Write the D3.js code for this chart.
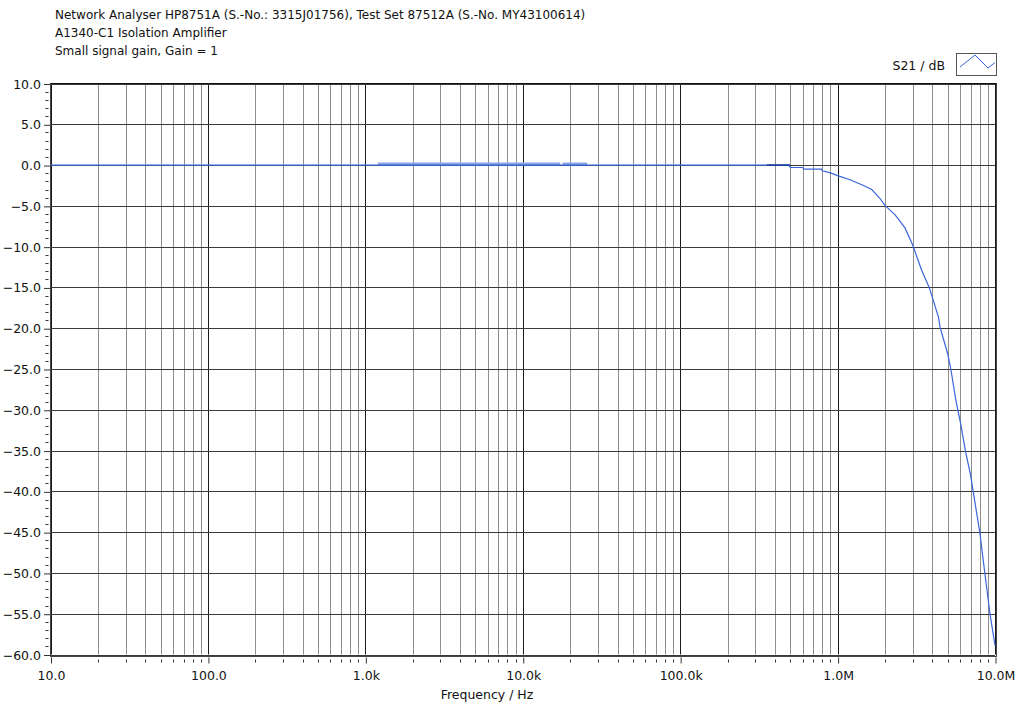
<!DOCTYPE html>
<html>
<head>
<meta charset="utf-8">
<script src="https://cdn.jsdelivr.net/npm/d3@7"></script>
<style>
  html, body { margin: 0; padding: 0; background: #fff; }
  svg { display: block; font-family: "DejaVu Sans", Verdana, sans-serif; }
</style>
</head>
<body>
<svg id="chart" width="1020" height="708"></svg>
<script>
// Header lines
const titleLines = [
  "Network Analyser HP8751A (S.-No.: 3315J01756), Test Set 87512A (S.-No. MY43100614)",
  "A1340-C1 Isolation Amplifier",
  "Small signal gain, Gain = 1"
];
const seriesName = "S21 / dB";
const xTitle = "Frequency / Hz";

// Axis ticks
const xMajorTicks = [10, 100, 1e3, 1e4, 1e5, 1e6, 1e7];
const xTickLabels = ["10.0", "100.0", "1.0k", "10.0k", "100.0k", "1.0M", "10.0M"];
const yMajorTicks = [10, 5, 0, -5, -10, -15, -20, -25, -30, -35, -40, -45, -50, -55, -60];

// S21 sweep: frequency (Hz) and gain (dB)
const freqHz = [10, 100, 1e3, 1e4, 1e5, 3.5e5, 4.9e5, 5.0e5, 6.0e5, 6.1e5, 7.9e5, 8.0e5, 9.0e5, 1.0e6,
  1.2e6, 1.46e6, 1.65e6, 1.77e6, 1.86e6, 2.0e6, 2.32e6, 2.68e6, 3.0e6, 3.42e6, 3.82e6, 4.37e6, 4.48e6,
  5.0e6, 5.24e6, 5.65e6, 6.05e6, 6.51e6, 7.0e6, 7.28e6, 8.0e6, 8.63e6, 9.29e6, 1.0e7];
const gainDb = [0, 0, 0, 0, 0, 0, 0, -0.3, -0.3, -0.5, -0.5, -0.7, -0.95, -1.3,
  -1.8, -2.5, -3.0, -3.65, -4.1, -4.95, -6.1, -7.7, -9.8, -12.9, -15.0, -18.6, -19.9,
  -23.1, -25.0, -28.9, -31.7, -35.2, -38.0, -40.1, -45.0, -50.1, -55.0, -58.9];

// Overlapping sweep segments
const segA_freq = [1.2e3, 1.73e4];
const segA_gain = [0.15, 0.15];
const segB_freq = [1.79e4, 2.57e4];
const segB_gain = [0.15, 0.15];
const segC_freq = [3.55e5, 4.98e5];
const segC_gain = [0, 0];

const svg = d3.select("#chart");

const x = d3.scaleLog().domain([10, 1e7]).range([50.5, 995]);
const y = d3.scaleLinear().domain([-60, 10]).range([654.5, 83.5]);
const px = v => Math.round(v) + 0.5;

// Header
svg.append("g").selectAll("text").data(titleLines).join("text")
  .attr("x", 55).attr("y", (d, i) => 19 + i * 18)
  .attr("font-size", 12).attr("fill", "#111")
  .text(d => d);

// Minor decade positions
const minorX = [];
for (let dec = 10; dec < 1e7; dec *= 10) {
  for (let k = 2; k <= 9; k++) minorX.push(dec * k);
}

const grid = svg.append("g");
// Minor vertical grid
grid.selectAll("line.vmin").data(minorX).join("line")
  .attr("class", "vmin")
  .attr("x1", d => px(x(d))).attr("x2", d => px(x(d)))
  .attr("y1", y(10)).attr("y2", y(-60))
  .attr("stroke", "#8e8e8e").attr("stroke-width", 1);
// Major vertical grid
grid.selectAll("line.vmaj").data(xMajorTicks).join("line")
  .attr("class", "vmaj")
  .attr("x1", d => px(x(d))).attr("x2", d => px(x(d)))
  .attr("y1", y(10)).attr("y2", y(-60))
  .attr("stroke", "#1a1a1a").attr("stroke-width", 1);
// Horizontal grid
grid.selectAll("line.h").data(yMajorTicks).join("line")
  .attr("class", "h")
  .attr("x1", x(10)).attr("x2", x(1e7))
  .attr("y1", d => px(y(d))).attr("y2", d => px(y(d)))
  .attr("stroke", "#3a3a3a").attr("stroke-width", 1);

// Frame
svg.append("rect")
  .attr("x", px(x(10)) - 1).attr("y", px(y(10)) - 1)
  .attr("width", px(x(1e7)) - px(x(10)) + 2)
  .attr("height", px(y(-60)) - px(y(10)) + 2)
  .attr("fill", "none").attr("stroke", "#444").attr("stroke-width", 1);
svg.append("line")
  .attr("x1", px(x(10)) - 1).attr("x2", px(x(1e7)) + 1)
  .attr("y1", px(y(10)) - 1).attr("y2", px(y(10)) - 1)
  .attr("stroke", "#111");

// Y axis: labels, major and minor ticks
const yAxis = d3.axisLeft(y).tickValues(yMajorTicks).tickSize(6).tickPadding(3)
  .tickFormat(d3.format(".1f"));
const gy = svg.append("g").attr("transform", `translate(${px(x(10)) - 1.5},0.5)`).call(yAxis);
gy.select(".domain").remove();
gy.selectAll(".tick line").attr("stroke", "#333");
gy.selectAll(".tick text").attr("font-size", 12.5).attr("fill", "#111")
  .attr("font-family", "DejaVu Sans, sans-serif");
const minorY = d3.range(-60, 10, 1).filter(v => v % 5 !== 0);
svg.append("g").selectAll("line").data(minorY).join("line")
  .attr("x1", px(x(10)) - 6).attr("x2", px(x(10)) - 3)
  .attr("y1", d => px(y(d))).attr("y2", d => px(y(d)))
  .attr("stroke", "#333");

// X axis: labels, major and minor ticks
const xAxis = d3.axisBottom(x).tickValues(xMajorTicks).tickSize(6).tickPadding(8)
  .tickFormat((d, i) => xTickLabels[i]);
const gx = svg.append("g").attr("transform", `translate(0.5,${px(y(-60)) + 2})`).call(xAxis);
gx.select(".domain").remove();
gx.selectAll(".tick line").attr("stroke", "#333");
gx.selectAll(".tick text").attr("font-size", 12.5).attr("fill", "#111")
  .attr("font-family", "DejaVu Sans, sans-serif");
svg.append("g").selectAll("line").data(minorX).join("line")
  .attr("x1", d => px(x(d))).attr("x2", d => px(x(d)))
  .attr("y1", px(y(-60)) + 4).attr("y2", px(y(-60)) + 7)
  .attr("stroke", "#333");

svg.append("text")
  .attr("x", 487).attr("y", 699).attr("text-anchor", "middle")
  .attr("font-size", 12.5).attr("fill", "#111")
  .text(xTitle);

// Data traces
const line = d3.line().x(d => x(d[0])).y(d => y(d[1]));
const plot = svg.append("g");
plot.append("path")
  .datum(d3.zip(segA_freq, segA_gain))
  .attr("d", line).attr("fill", "none")
  .attr("stroke", "#8aa5ea").attr("stroke-width", 2.6);
plot.append("path")
  .datum(d3.zip(segB_freq, segB_gain))
  .attr("d", line).attr("fill", "none")
  .attr("stroke", "#8aa5ea").attr("stroke-width", 2.6);
plot.append("path")
  .datum(d3.zip(freqHz, gainDb))
  .attr("d", line).attr("fill", "none")
  .attr("stroke", "#3a66dc").attr("stroke-width", 1.2);
plot.append("path")
  .datum(d3.zip(segC_freq, segC_gain))
  .attr("d", line).attr("fill", "none")
  .attr("stroke", "#1c3f9c").attr("stroke-width", 1.6);

// Legend
const lg = svg.append("g");
lg.append("text")
  .attr("x", 945).attr("y", 70).attr("text-anchor", "end")
  .attr("font-size", 12.5).attr("fill", "#111")
  .text(seriesName);
lg.append("rect")
  .attr("x", 956.5).attr("y", 53.5).attr("width", 40).attr("height", 22)
  .attr("fill", "#fff").attr("stroke", "#555");
lg.append("path")
  .attr("d", "M960,67 L975,55 L988,68 L995,62.5")
  .attr("fill", "none").attr("stroke", "#3a66dc").attr("stroke-width", 1);
</script>
</body>
</html>
